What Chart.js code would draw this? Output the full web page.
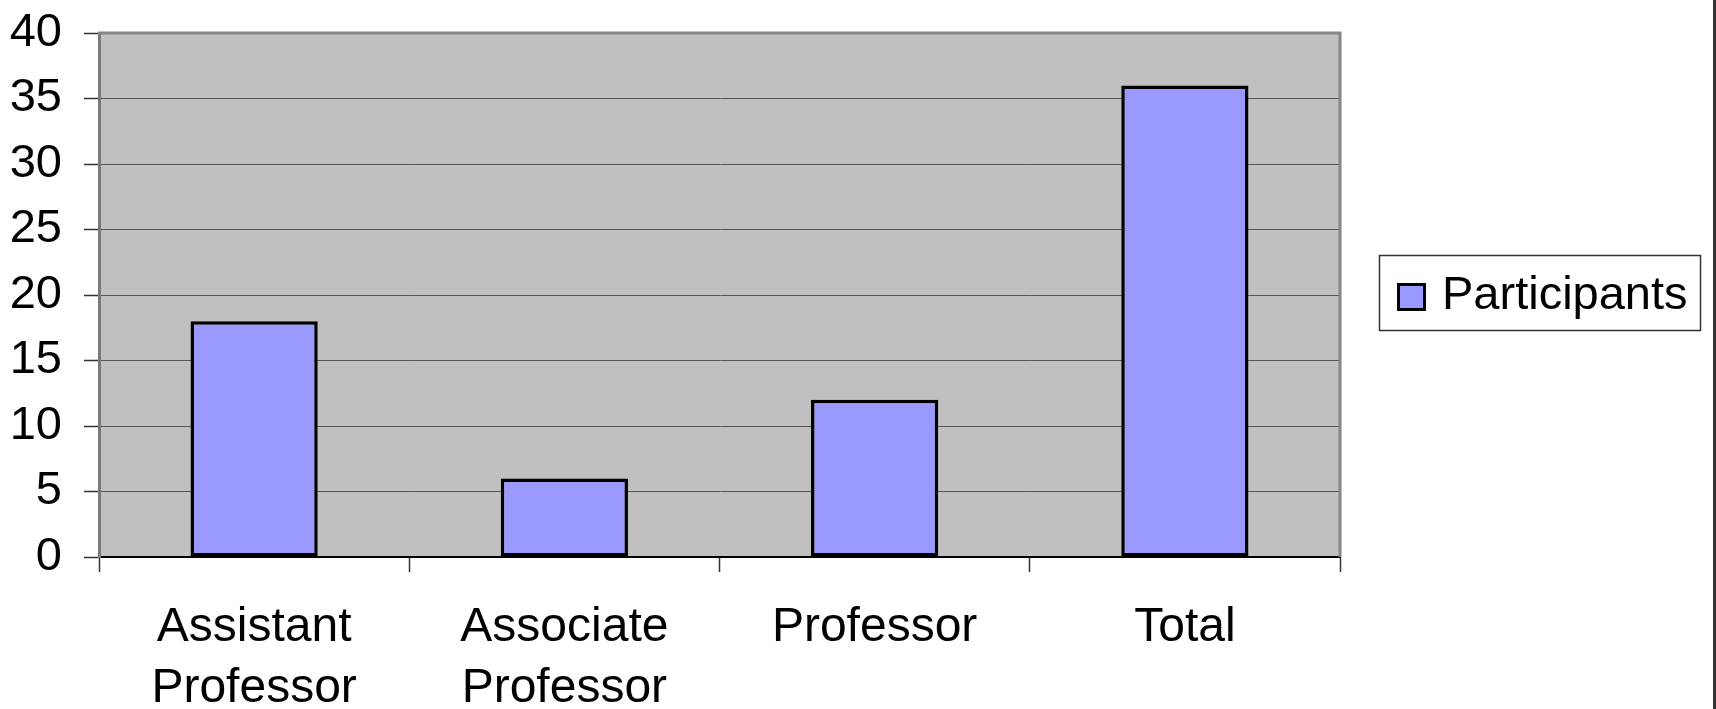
<!DOCTYPE html>
<html>
<head>
<meta charset="utf-8">
<script src="https://cdn.jsdelivr.net/npm/chart.js@4/dist/chart.umd.min.js"></script>
<style>
  html, body { margin: 0; padding: 0; background: #ffffff; }
  #wrap { width: 1716px; height: 709px; position: relative; }
</style>
</head>
<body>
<div id="wrap"><canvas id="chart" width="1716" height="709"></canvas></div>
<script>
// Faculty rank categories (multi-line labels) and participant counts
const categories = [['Assistant', 'Professor'], ['Associate', 'Professor'], 'Professor', 'Total'];
const participants = [18, 6, 12, 36];
const seriesName = 'Participants';
// Value axis range and step
const yMin = 0;
const yMax = 40;
const yStep = 5;

const FONT = '"Liberation Sans", Arial, Helvetica, sans-serif';

// Grey plot area with a bevelled frame, plus the boxed legend and page edge
const frame = {
  id: 'frame',
  beforeDraw(chart) {
    const { ctx, chartArea: a } = chart;
    ctx.save();
    ctx.fillStyle = '#c0c0c0';
    ctx.fillRect(a.left, a.top, a.right - a.left, a.bottom - a.top);
    ctx.restore();
  },
  afterDraw(chart) {
    const { ctx, chartArea: a } = chart;
    ctx.save();
    // top and right edges of the plot frame
    ctx.strokeStyle = '#858585';
    ctx.lineWidth = 3;
    ctx.beginPath();
    ctx.moveTo(a.left - 1, a.top);
    ctx.lineTo(a.right, a.top);
    ctx.lineTo(a.right, a.bottom);
    ctx.stroke();

    // legend box
    const ds = chart.data.datasets[0];
    ctx.fillStyle = '#ffffff';
    ctx.fillRect(1379, 255, 322, 76);
    ctx.strokeStyle = '#333333';
    ctx.lineWidth = 1.5;
    ctx.strokeRect(1379.5, 255.5, 321, 75);
    ctx.fillStyle = ds.backgroundColor;
    ctx.fillRect(1397, 283, 29, 28);
    ctx.strokeStyle = '#000000';
    ctx.lineWidth = 3;
    ctx.strokeRect(1398.5, 284.5, 26, 25);
    ctx.fillStyle = '#000000';
    ctx.font = '47px ' + FONT;
    ctx.textBaseline = 'alphabetic';
    ctx.textAlign = 'left';
    ctx.fillText(ds.label, 1442, 309);

    // dark right edge of the page
    ctx.fillStyle = '#333333';
    ctx.fillRect(1713, 0, 3, 709);
    ctx.restore();
  }
};

new Chart(document.getElementById('chart'), {
  type: 'bar',
  data: {
    labels: categories,
    datasets: [{
      label: seriesName,
      data: participants,
      backgroundColor: '#9999ff',
      borderColor: '#000000',
      borderWidth: 3.5,
      borderSkipped: false,
      categoryPercentage: 1.0,
      barPercentage: 0.41
    }]
  },
  options: {
    responsive: false,
    animation: false,
    devicePixelRatio: 1,
    layout: { padding: { top: 33, right: 376, left: 0, bottom: 0 } },
    plugins: {
      legend: { display: false },
      tooltip: { enabled: false }
    },
    scales: {
      x: {
        offset: true,
        grid: {
          offset: true,
          drawOnChartArea: false,
          drawTicks: true,
          tickLength: 15,
          tickColor: '#333333',
          tickWidth: 1.5
        },
        border: { display: true, color: '#000000', width: 2 },
        ticks: {
          color: '#000000',
          font: { family: FONT, size: 48, lineHeight: 1.27 },
          padding: 25,
          maxRotation: 0,
          autoSkip: false
        },
        afterFit(scale) {
          scale.height = 152;
          scale.paddingLeft = 0;
          scale.paddingRight = 0;
        }
      },
      y: {
        min: yMin,
        max: yMax,
        grid: {
          color: '#555555',
          lineWidth: 1,
          drawTicks: true,
          tickLength: 15,
          tickColor: '#333333',
          tickWidth: 1.5
        },
        border: { display: true, color: '#7a7a7a', width: 3 },
        ticks: {
          stepSize: yStep,
          color: '#000000',
          font: { family: FONT, size: 47 },
          padding: 22
        },
        afterFit(scale) {
          scale.width = 99;
          scale.paddingTop = 0;
          scale.paddingBottom = 0;
        }
      }
    }
  },
  plugins: [frame]
});
</script>
</body>
</html>
